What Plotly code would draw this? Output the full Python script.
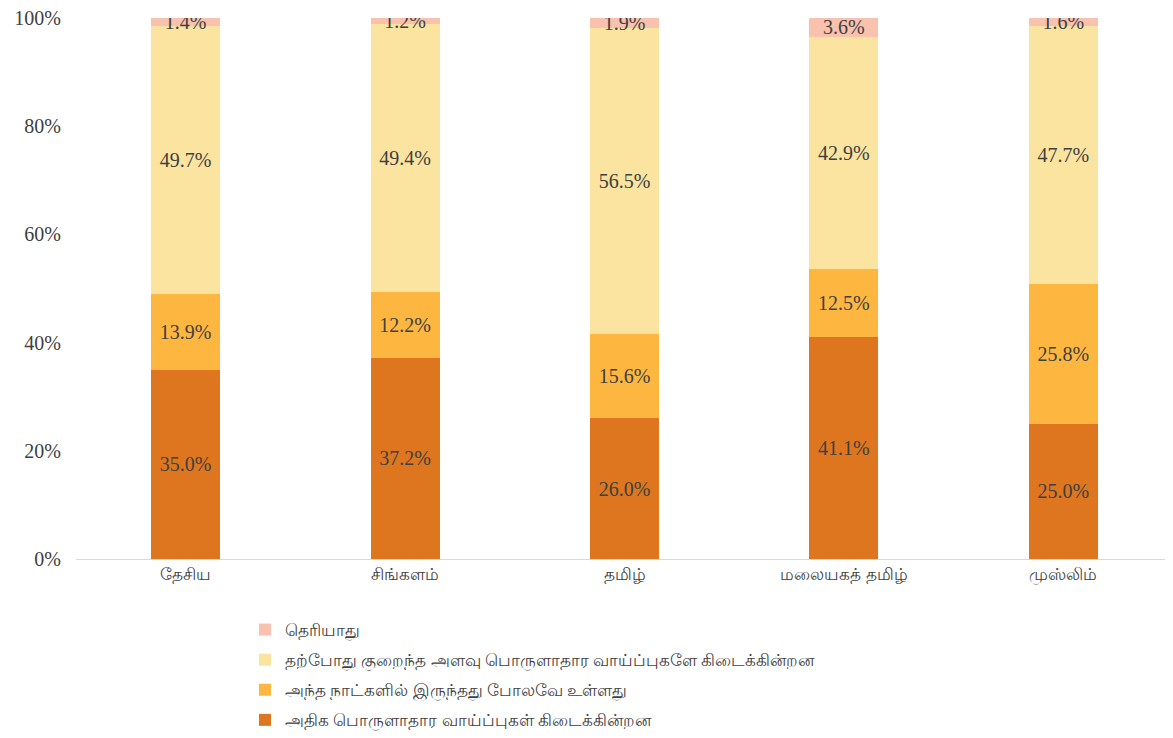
import plotly.graph_objects as go

categories = ["தேசிய", "சிங்களம்", "தமிழ்", "மலையகத் தமிழ்", "முஸ்லிம்"]
series_names = [
    "அதிக பொருளாதார வாய்ப்புகள் கிடைக்கின்றன",
    "அந்த நாட்களில் இருந்தது போலவே உள்ளது",
    "தற்போது குறைந்த அளவு பொருளாதார வாய்ப்புகளே கிடைக்கின்றன",
    "தெரியாது",
]
more_opps = [35.0, 37.2, 26.0, 41.1, 25.0]
same = [13.9, 12.2, 15.6, 12.5, 25.8]
fewer = [49.7, 49.4, 56.5, 42.9, 47.7]
dont_know = [1.4, 1.2, 1.9, 3.6, 1.6]
colors = ["#DD761E", "#FDB741", "#FBE3A0", "#F9C2AE"]

series = [more_opps, same, fewer, dont_know]
fig = go.Figure()
for i, (name, vals, col) in enumerate(zip(series_names, series, colors)):
    fig.add_trace(go.Bar(
        x=categories, y=vals, name=name, marker_color=col,
        marker_line_width=0, legendgroup=f"g{i}",
        legendrank=1000 - i,
        text=[f"{v:.1f}%" for v in vals],
        textposition="inside", insidetextanchor="middle",
        constraintext="none", textangle=0,
        textfont=dict(family="Liberation Serif", size=20, color="#404040"),
        hoverinfo="skip",
    ))

W, H = 1165, 730
L, T, B = 68, 10, 179
fig.update_layout(
    barmode="stack",
    width=W, height=H,
    margin=dict(l=L, r=0, t=T, b=B, autoexpand=False),
    paper_bgcolor="white", plot_bgcolor="white",
    bargap=0.686,
    font=dict(family="Liberation Serif", color="#404040"),
    showlegend=True,
    legend=dict(
        x=(237 - L) / (W - L), y=-(604 - (H - B)) / (H - B - T),
        xanchor="left", yanchor="top",
        traceorder="grouped",
        font=dict(size=17, color="#404040"),
        itemwidth=30, tracegroupgap=5,
    ),
)
fig.update_yaxes(
    range=[0, 100], tickvals=[0, 20, 40, 60, 80, 100],
    ticktext=["0%", "20%", "40%", "60%", "80%", "100%"],
    showgrid=False, zeroline=False, showline=False,
    tickfont=dict(family="Liberation Serif", size=20, color="#404040"),
    ticks="", ticklabelstandoff=14, ticklabeloverflow="allow",
)
fig.update_xaxes(
    showline=True, linecolor="#D9D9D9", linewidth=1,
    tickfont=dict(family="Noto Sans, sans-serif", size=17, color="#404040"),
    ticks="", tickangle=0,
)
fig.write_html("out.html")
